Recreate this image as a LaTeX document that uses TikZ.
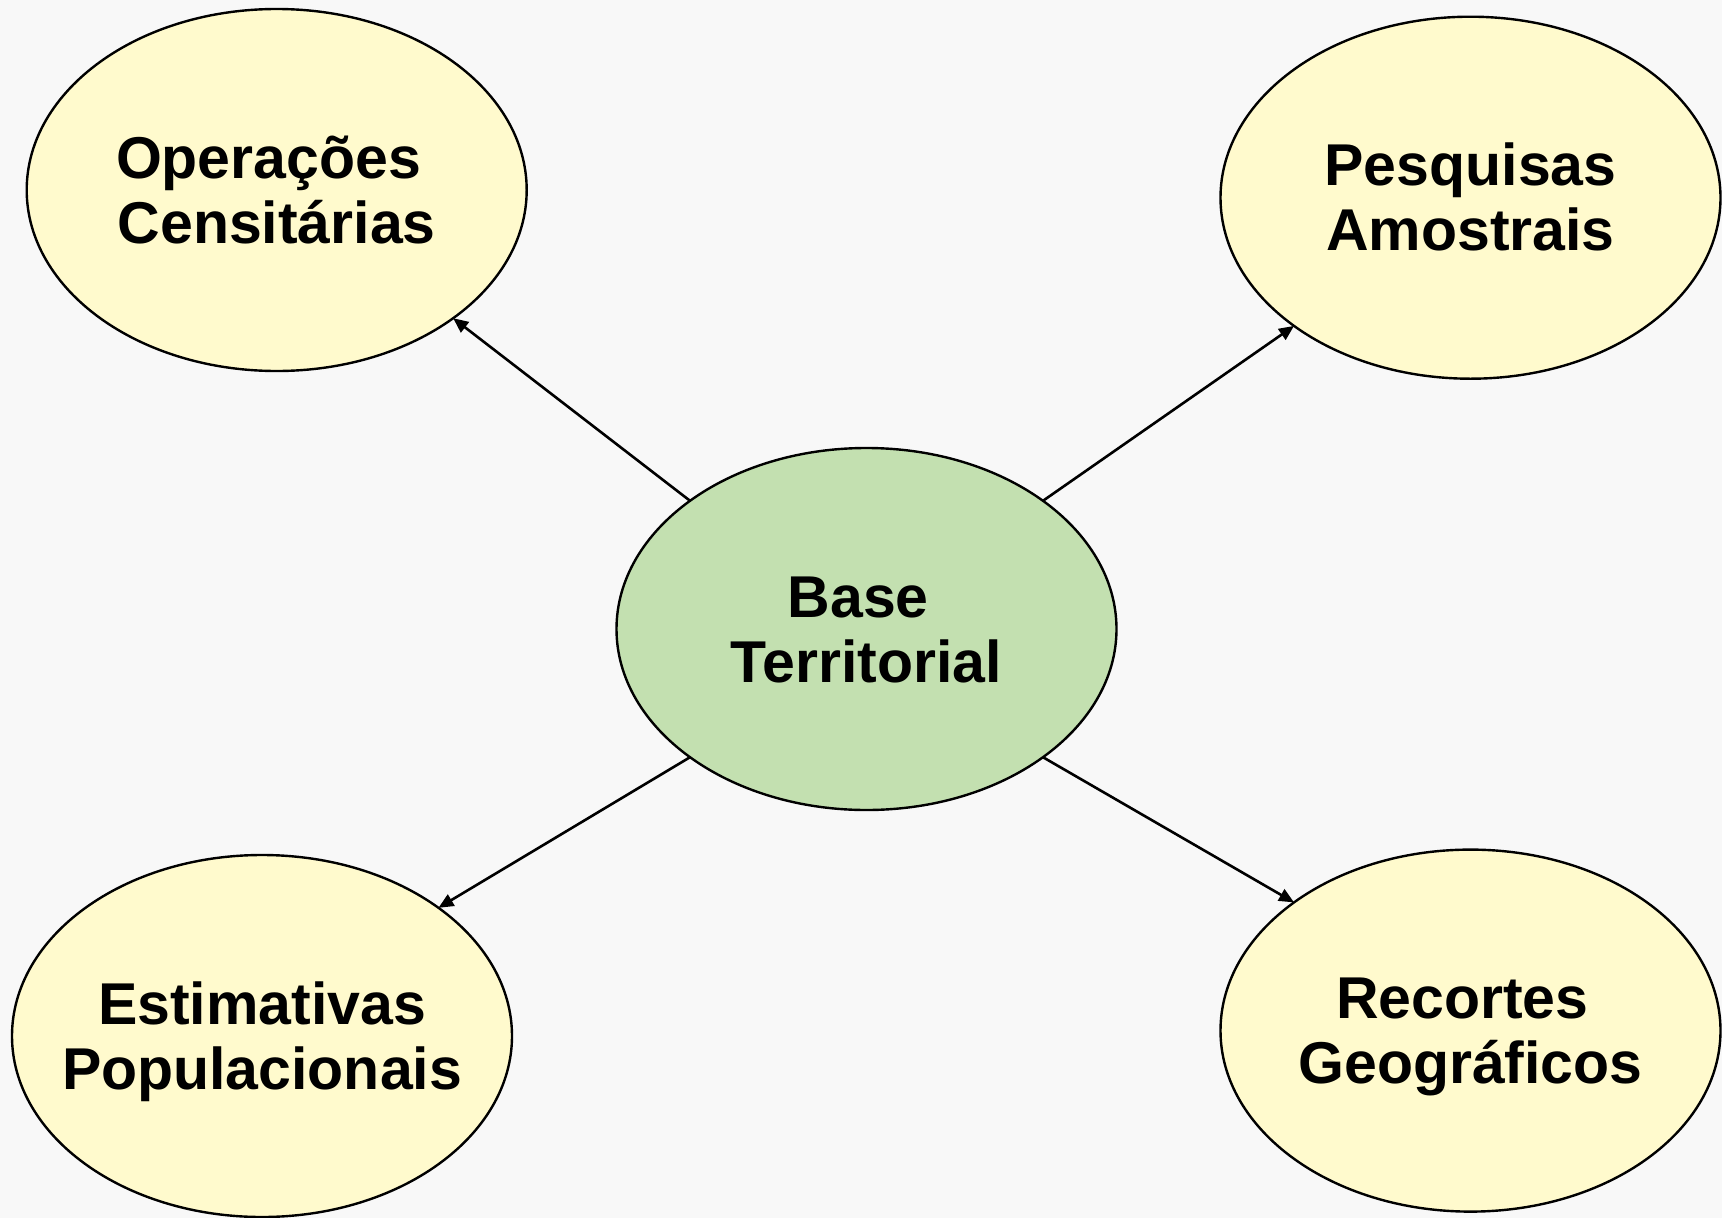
\documentclass[tikz,border=0pt]{standalone}
\usepackage{fontspec}
\setmainfont{Liberation Sans}
\usetikzlibrary{arrows.meta,calc,shapes.geometric}
\definecolor{bgc}{HTML}{F8F8F8}
\definecolor{yell}{HTML}{FFFACD}
\definecolor{grn}{HTML}{C3E0B0}
\begin{document}
\begin{tikzpicture}[x=1pt,y=1pt,
  ell/.style={ellipse,draw=black,line width=2.4pt,minimum width=500pt,minimum height=362pt,inner sep=0pt,outer sep=0pt},
  lbl/.style={inner sep=0pt,anchor=base,font=\bfseries\fontsize{59}{65}\selectfont},
  conn/.style={line width=2.6pt,-{Triangle[length=15pt,width=13pt]}}]
\fill[bgc] (0,0) rectangle (1722,-1218);
\useasboundingbox (0,0) rectangle (1722,-1218);
\node[ell,fill=grn]  (c)  at (866.5,-629) {};
\node[ell,fill=yell] (tl) at (276.7,-190) {};
\node[ell,fill=yell] (tr) at (1470.5,-197.7) {};
\node[ell,fill=yell] (bl) at (262,-1036) {};
\node[ell,fill=yell] (br) at (1470.5,-1030.6) {};
\node[lbl] (tc)  at ([yshift=-53pt]c.center)  {\begin{tabular}[b]{@{}c@{}}Base\kern0.278em\\Territorial\end{tabular}};
\node[lbl] (ttl) at ([yshift=-53pt]tl.center) {\begin{tabular}[b]{@{}c@{}}Operações\kern0.278em\\Censitárias\end{tabular}};
\node[lbl] (ttr) at ([yshift=-53pt]tr.center) {\begin{tabular}[b]{@{}c@{}}Pesquisas\\Amostrais\end{tabular}};
\node[lbl] (tbl) at ([yshift=-53pt]bl.center) {\begin{tabular}[b]{@{}c@{}}Estimativas\\Populacionais\end{tabular}};
\node[lbl] (tbr) at ([yshift=-53pt]br.center) {\begin{tabular}[b]{@{}c@{}}Recortes\kern0.278em\\Geográficos\end{tabular}};
\draw[conn] (c.144) -- (tl.-36);
\draw[conn] (c.36) -- (tr.216);
\draw[conn] (c.216) -- (bl.36);
\draw[conn] (c.-36) -- (br.144);
\end{tikzpicture}
\end{document}
